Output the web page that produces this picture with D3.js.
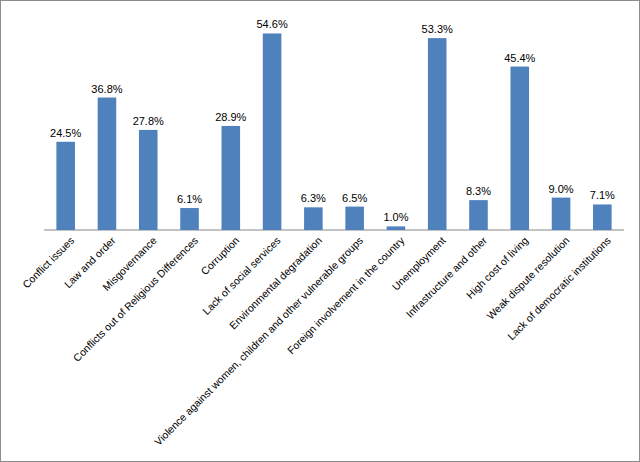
<!DOCTYPE html>
<html><head><meta charset="utf-8">
<script src="https://cdn.jsdelivr.net/npm/d3@7"></script>
<style>body{margin:0;background:#fff}</style>
</head><body><svg id="c"></svg>
<script>
const categories = ["Conflict issues","Law and order","Misgovernance","Conflicts out of Religious Differences","Corruption","Lack of social services","Environmental degradation","Violence against women, children and other vulnerable groups","Foreign involvement in the country","Unemployment","Infrastructure and other","High cost of living","Weak dispute resolution","Lack of democratic institutions"];
const values = [24.5,36.8,27.8,6.1,28.9,54.6,6.3,6.5,1.0,53.3,8.3,45.4,9.0,7.1];

const W = 640, H = 462;
const svg = d3.select("#c").attr("width", W).attr("height", H);
svg.append("rect").attr("x",0.5).attr("y",0.5).attr("width",W-1).attr("height",H-1)
  .attr("fill","#fff").attr("stroke","#8c8c8c");

const x = d3.scaleBand().domain(categories).range([44, 624]).paddingInner(0.55).paddingOuter(0.3);
const y = d3.scaleLinear().domain([0, 60]).range([230, 14]);

svg.append("line").attr("x1",44).attr("x2",624).attr("y1",y(0)).attr("y2",y(0)).attr("stroke","#888");

svg.append("g").selectAll("rect").data(values).join("rect")
  .attr("x",(d,i)=>x(categories[i])).attr("width",x.bandwidth())
  .attr("y",d=>y(d)).attr("height",d=>y(0)-y(d)).attr("fill","#4f81bd");

svg.append("g").selectAll("text").data(values).join("text")
  .attr("x",(d,i)=>x(categories[i])+x.bandwidth()/2).attr("y",d=>y(d)-5)
  .attr("text-anchor","middle").attr("font-family","Liberation Sans, Arial").attr("font-size",11)
  .text(d=>d.toFixed(1)+"%");

svg.append("g").selectAll("text").data(categories).join("text")
  .attr("transform",d=>`translate(${x(d)+x.bandwidth()/2+4},${y(0)+6}) rotate(-45)`)
  .attr("text-anchor","end").attr("dy","0.7em").attr("font-family","Liberation Sans, Arial").attr("font-size",10.5)
  .text(d=>d);
</script></body></html>
